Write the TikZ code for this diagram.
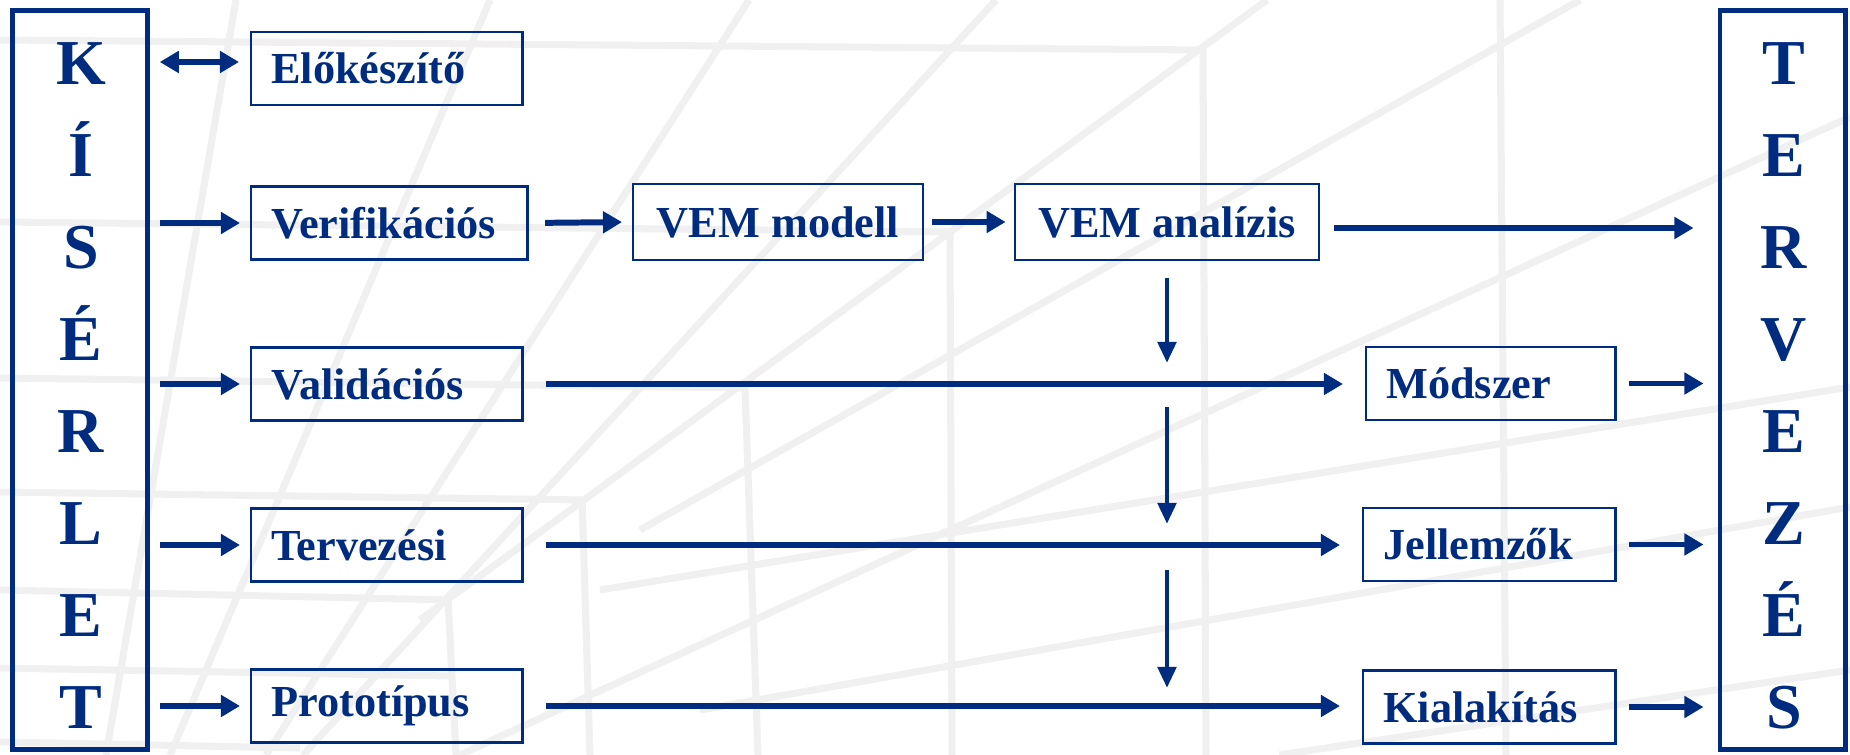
\documentclass[tikz,border=0pt]{standalone}
\usepackage{fontspec}
\setmainfont{Liberation Serif}
\usetikzlibrary{arrows.meta}
\definecolor{kisBlue}{HTML}{002C80}
\definecolor{gridGrey}{HTML}{F0F0F0}

\begin{document}
\begin{tikzpicture}[x=0.01cm, y=-0.01cm, text=kisBlue,
  font=\bfseries\fontsize{12.6}{15}\selectfont,
  stage/.style={draw=kisBlue, line width=0.7pt, minimum height=0.73cm, inner xsep=0.2cm, align=left},
  pillar/.style={draw=kisBlue, line width=1.4pt, minimum height=7.39cm},
  letter/.style={anchor=base, font=\bfseries\fontsize{18.2}{22}\selectfont},
  flow/.style={draw=kisBlue, line width=1.7pt, >={Triangle[length=0.19cm, width=0.21cm]}, ->},
  drop/.style={draw=kisBlue, line width=1.4pt, >={Triangle[length=0.21cm, width=0.18cm]}, ->},
  bgline/.style={draw=gridGrey, line width=2pt}]

  \useasboundingbox (0,0) rectangle (1850,755);
  \fill[white] (0,0) rectangle (1850,755);
  % faint background grid
  \draw[bgline] (0,40) -- (1203,50) (0,222) -- (950,232) (0,378) -- (748,388)
    (0,492) -- (585,500) (0,590) -- (450,600) (0,668) -- (450,676) (0,742) -- (300,748);
  \draw[bgline] (1203,45) -- (1206,755) (1500,0) -- (1506,755) (950,230) -- (952,755)
    (745,388) -- (758,755) (582,497) -- (590,755) (448,598) -- (456,755);
  \draw[bgline] (106,755) -- (236,0) (170,755) -- (490,0) (266,755) -- (749,0)
    (303,755) -- (996,0) (420,620) -- (1267,0) (640,530) -- (1580,0)
    (460,755) -- (1850,117) (600,590) -- (1850,387) (700,710) -- (1850,507)
    (1279,755) -- (1850,670);

  % Kiserlet / Tervezes
  \node[pillar, minimum width=1.345cm] (kis) at (80,380) {};
  \node[pillar, minimum width=1.25cm] (terv) at (1782.5,380) {};
  \foreach \l [count=\i from 0] in {K,Í,S,É,R,L,E,T}
    \node[letter] (kis\i) at (81,85+92*\i) {\l};
  \foreach \l [count=\i from 0] in {T,E,R,V,E,Z,É,S}
    \node[letter] (terv\i) at (1784,85+92*\i) {\l};

  % kiserlet types
  \node[stage, text width=2.31cm, anchor=west] (elo) at (250,68.5) {Előkészítő};
  \node[stage, text width=2.36cm, anchor=west] (verif) at (250,223) {Verifikációs};
  \node[stage, text width=2.31cm, anchor=west] (valid) at (250,384) {Validációs};
  \node[stage, text width=2.31cm, anchor=west] (tervez) at (250,545) {Tervezési};
  \node[stage, text width=2.31cm, anchor=west] (proto) at (250,706) {Prototípus};

  \node[stage, inner xsep=0.235cm, minimum height=0.76cm] (vemmod) at (778,222) {VEM modell};
  \node[stage, inner xsep=0.235cm, minimum height=0.76cm] (vemanal) at (1167,222) {VEM analízis};

  \node[stage, text width=2.09cm, anchor=west] (modsz) at (1365,383.5) {Módszer};
  \node[stage, text width=2.12cm, anchor=west] (jell) at (1362,544.5) {Jellemzők};
  \node[stage, text width=2.12cm, anchor=west] (kial) at (1362,707) {Kialakítás};

  % arrows
  \coordinate (eloIn) at ([yshift=0.065cm]elo.west);
  \draw[flow, <->, shorten <=0.1cm, shorten >=0.11cm] (kis.east |- eloIn) -- (eloIn);
  \foreach \n in {verif, valid, tervez, proto}
    \draw[flow, shorten <=0.1cm, shorten >=0.1cm] (kis.east |- \n.west) -- (\n.west);

  \draw[flow, shorten <=0.165cm, shorten >=0.1cm] (verif.east) -- (vemmod.west);
  \draw[flow, shorten <=0.08cm, shorten >=0.08cm] (vemmod.east) -- (vemanal.west);
  \coordinate (anaOut) at ([yshift=-0.06cm]vemanal.east);
  \draw[flow, shorten <=0.14cm, shorten >=0.24cm] (anaOut) -- (anaOut -| terv.west);

  \draw[drop, shorten <=0.17cm, shorten >=0.21cm] (vemanal.south) -- (vemanal.south |- valid.east);
  \draw[drop, shorten <=0.23cm, shorten >=0.21cm] (vemanal.south |- valid.east) -- (vemanal.south |- tervez.east);
  \draw[drop, shorten <=0.25cm, shorten >=0.18cm] (vemanal.south |- tervez.east) -- (vemanal.south |- proto.east);

  \foreach \a/\b in {valid/modsz, tervez/jell, proto/kial}
    \draw[flow, shorten <=0.22cm, shorten >=0.22cm] (\a.east) -- (\a.east -| \b.west);
  \foreach \n in {modsz, jell, kial}
    \draw[flow, shorten <=0.12cm, shorten >=0.14cm] (\n.east) -- (\n.east -| terv.west);
\end{tikzpicture}
\end{document}
